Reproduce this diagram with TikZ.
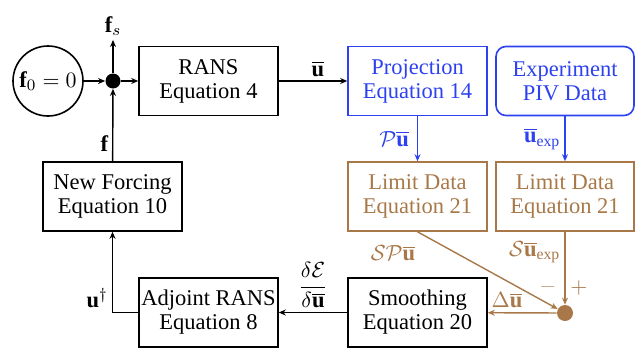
\documentclass[tikz,border=0pt]{standalone}
\usepackage{amsmath}
\usepackage{fontspec}
\setmainfont{Liberation Serif}
\usetikzlibrary{arrows.meta}
\definecolor{dblue}{RGB}{45,65,240}
\definecolor{dbrown}{RGB}{168,120,72}
\begin{document}
\begin{tikzpicture}[x=0.5pt,y=-0.5pt,
  font=\fontsize{11.25}{12}\selectfont,
  box/.style={draw, line width=0.8pt, minimum width=69.5pt, minimum height=34.5pt, align=center, inner sep=0pt},
  arr/.style={-{Stealth[length=3.5pt,width=3pt]}, line width=0.7pt},
  lbl/.style={inner sep=2pt}]
\useasboundingbox (0,0) rectangle (636,348);
% nodes
\node[draw, circle, minimum size=35pt, inner sep=0pt, line width=0.8pt] (f0) at (48,81) {$\mathbf{f}_0=0$};
\node[circle, fill, minimum size=7.5pt, inner sep=0pt] (j) at (113,81) {};
\node[lbl] (fs) at (113,26) {$\mathbf{f}_s$};
\node[box] (rans) at (208.5,81) {RANS\\Equation 4};
\node[box, draw=dblue, text=dblue] (proj) at (417.5,81) {Projection\\Equation 14};
\node[box, draw=dblue, text=dblue, rounded corners=5pt, minimum width=69pt] (exp) at (565,81) {Experiment\\PIV Data};
\node[box, draw=dbrown, text=dbrown] (lim1) at (417.5,196.5) {Limit Data\\Equation 21};
\node[box, draw=dbrown, text=dbrown, minimum width=69pt] (lim2) at (565,196.5) {Limit Data\\Equation 21};
\node[box] (nf) at (112.5,196.5) {New Forcing\\Equation 10};
\node[box] (adj) at (208.5,312.5) {Adjoint RANS\\Equation 8};
\node[box] (sm) at (417.5,312.5) {Smoothing\\Equation 20};
\node[circle, fill=dbrown, minimum size=8pt, inner sep=0pt] (bd) at (565,313) {};
% connectors
\draw[arr] (f0) -- (j);
\draw[arr] (j) -- (rans);
\draw[arr] (j) -- (fs.south);
\draw[arr] (rans) -- node[above, lbl, xshift=2.5pt] {$\overline{\mathbf{u}}$} (proj);
\draw[arr, dblue] (proj) -- node[left, lbl, text=dblue, xshift=-2pt] {$\mathcal{P}\overline{\mathbf{u}}$} (lim1);
\draw[arr, dblue] (exp) -- node[left, lbl, text=dblue] {$\overline{\mathbf{u}}_{\mathrm{exp}}$} (lim2);
\draw[arr, dbrown] (lim1.south) -- (bd);
\node[text=dbrown] (spu) at (393,253) {$\mathcal{S}\mathcal{P}\overline{\mathbf{u}}$};
\draw[arr, dbrown] (lim2) -- node[pos=0.28, left, lbl, text=dbrown] {$\mathcal{S}\overline{\mathbf{u}}_{\mathrm{exp}}$} (bd);
\node[text=dbrown!70] (minus) at (548,287) {$-$};
\node[text=dbrown] (plus) at (579,288) {$+$};
\draw[arr, dbrown] (bd) -- node[pos=0.72, above, lbl, text=dbrown] {$\Delta\overline{\mathbf{u}}$} (sm);
\draw[arr] (sm) -- node[above, lbl] {$\dfrac{\delta\mathcal{E}}{\delta\overline{\mathbf{u}}}$} (adj);
\draw[arr] (adj.west) -| node[pos=0.59, left, lbl] {$\mathbf{u}^{\dagger}$} (nf.south);
\draw[arr] (nf) -- node[pos=0.24, left, lbl] {$\mathbf{f}$} (j);
\end{tikzpicture}
\end{document}
